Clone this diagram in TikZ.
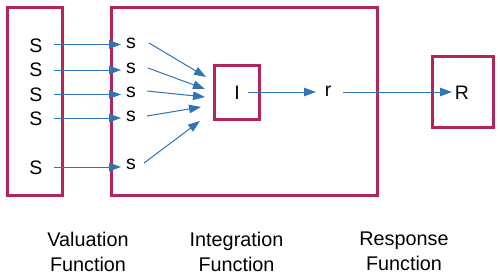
\documentclass[tikz,border=0pt]{standalone}
\usepackage{fontspec}
\setmainfont{Liberation Sans}
\usetikzlibrary{arrows.meta}
\definecolor{boxred}{HTML}{B3245C}
\definecolor{arrblue}{HTML}{2F74B5}
\tikzset{
  frame/.style={draw=boxred, line width=3pt},
  lbl/.style={inner sep=0pt, font=\fontsize{19.5}{23}\selectfont},
  conn/.style={draw=arrblue, line width=1pt, -{Triangle[length=12pt,width=8.5pt]}},
  captxt/.style={inner sep=0pt, align=center, font=\fontsize{19.8}{25}\selectfont}
}
\begin{document}
\begin{tikzpicture}[x=1pt,y=-1pt]
\useasboundingbox (0,0) rectangle (500,278);
\draw[frame] (7,8) rectangle (62,195);
\draw[frame] (111,8) rectangle (377,195);
\node[frame, minimum width=45pt, minimum height=54pt, inner sep=0pt] (I) at (236.5,92) {};
\node[frame, minimum width=61pt, minimum height=70pt, inner sep=0pt] (R) at (462.5,92) {};
\node[lbl] (Il) at (237,93) {I};
\node[lbl] (Rl) at (462,93) {R};
\node[lbl] (r) at (328,91) {r};
\node[lbl] (S1) at (36,46) {S};
\node[lbl] (S2) at (36,70) {S};
\node[lbl] (S3) at (36,95) {S};
\node[lbl] (S4) at (36,119) {S};
\node[lbl] (S5) at (36,168) {S};
\node[lbl] (s1) at (131,43) {s};
\node[lbl] (s2) at (131,68) {s};
\node[lbl] (s3) at (131,92) {s};
\node[lbl] (s4) at (131,116) {s};
\node[lbl] (s5) at (131,164) {s};
\foreach \i/\y in {1/44.5,2/70,3/94.5,4/118,5/167}{
  \coordinate (a\i) at (54,\y);
  \coordinate (b\i) at (121,\y);
  \draw[conn] (a\i) -- (b\i);
}
\coordinate (c1) at (149,43);  \coordinate (d1) at (206,77);
\coordinate (c2) at (148,68);  \coordinate (d2) at (205,89);
\coordinate (c3) at (147,91);  \coordinate (d3) at (205,97);
\coordinate (c4) at (147,116); \coordinate (d4) at (201,107);
\coordinate (c5) at (144,163); \coordinate (d5) at (200,121);
\foreach \i in {1,...,5}{ \draw[conn] (c\i) -- (d\i); }
\coordinate (e1) at (248,92); \coordinate (f1) at (316,92);
\draw[conn] (e1) -- (f1);
\coordinate (e2) at (343,92); \coordinate (f2) at (452,92);
\draw[conn] (e2) -- (f2);
\node[captxt, anchor=north] (v) at (88,232) {Valuation\\Function};
\node[captxt, anchor=north] (ig) at (236.5,232) {Integration\\Function};
\node[captxt, anchor=north] (rs) at (404,232) {Response\\Function};
\end{tikzpicture}
\end{document}
